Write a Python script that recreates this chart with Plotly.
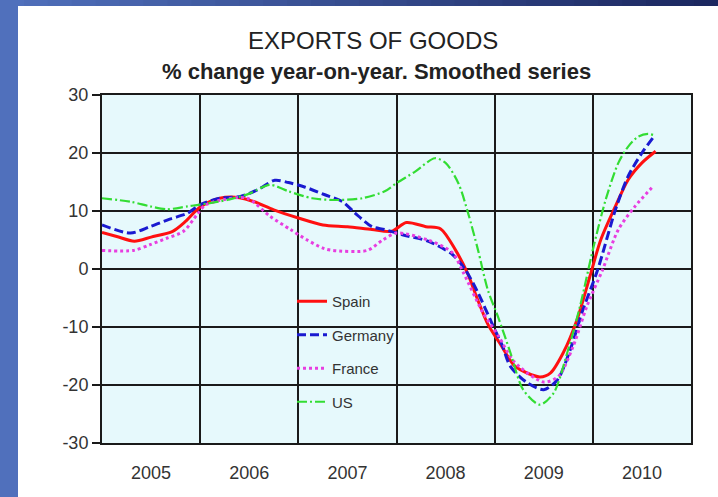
import plotly.graph_objects as go

# ---------------- data ----------------
year_labels = ["2005", "2006", "2007", "2008", "2009", "2010"]
y_ticks = [30, 20, 10, 0, -10, -20, -30]
y_tick_labels = ["30", "20", "10", "0", "-10", "-20", "-30"]

spain_x = [2005.0, 2005.15, 2005.33, 2005.5, 2005.72, 2005.85, 2006.0, 2006.2, 2006.4, 2006.55,
           2006.75, 2007.0, 2007.25, 2007.5, 2007.75, 2007.95, 2008.1, 2008.3, 2008.45, 2008.6,
           2008.72, 2008.82, 2008.93, 2009.06, 2009.21, 2009.46, 2009.57, 2009.70, 2009.84, 2009.97,
           2010.08, 2010.23, 2010.36, 2010.5, 2010.64]
spain_y = [6.3, 5.6, 4.8, 5.5, 6.5, 8.2, 10.7, 12.2, 12.3, 11.6,
           10.2, 8.8, 7.6, 7.3, 6.8, 6.5, 8.0, 7.3, 6.9, 3.3,
           -0.6, -5.0, -9.5, -13.0, -16.8, -18.6, -17.9, -14.4, -8.7, -1.3,
           5.0, 10.8, 15.4, 18.3, 20.3]

germany_x = [2005.0, 2005.29, 2005.49, 2005.69, 2005.87, 2006.0, 2006.2, 2006.41, 2006.59, 2006.76,
             2006.9, 2007.07, 2007.27, 2007.45, 2007.58, 2007.75, 2007.88, 2008.06, 2008.32, 2008.57,
             2008.7, 2008.83, 2008.97, 2009.08, 2009.16, 2009.33, 2009.5, 2009.64, 2009.77, 2009.9,
             2010.05, 2010.23, 2010.36, 2010.5, 2010.62]
germany_y = [7.6, 6.2, 7.3, 8.6, 9.6, 11.1, 12.2, 12.5, 13.7, 15.3,
             14.9, 14.1, 12.8, 11.6, 9.6, 7.3, 6.8, 5.9, 4.8, 2.5,
             -0.1, -4.1, -9.3, -13.3, -16.8, -19.6, -20.8, -19.1, -13.9, -7.0,
             -0.1, 10.2, 16.0, 20.0, 22.8]

france_x = [2005.0, 2005.32, 2005.49, 2005.66, 2005.83, 2005.97, 2006.05, 2006.25, 2006.48, 2006.71,
            2006.92, 2007.09, 2007.25, 2007.35, 2007.7, 2007.86, 2008.0, 2008.32, 2008.57, 2008.68,
            2008.88, 2009.04, 2009.2, 2009.5, 2009.65, 2009.8, 2009.94, 2010.1, 2010.26, 2010.43,
            2010.6]
france_y = [3.2, 3.2, 4.2, 5.3, 6.5, 9.4, 11.0, 12.0, 12.2, 9.1,
            6.8, 5.0, 3.6, 3.2, 3.2, 5.0, 6.2, 5.0, 2.8, -0.6,
            -7.5, -11.6, -16.0, -19.5, -18.5, -13.3, -6.4, -0.1, 6.8, 10.8,
            14.0]

us_x = [2005.0, 2005.29, 2005.49, 2005.66, 2005.87, 2006.0, 2006.3, 2006.5, 2006.71, 2006.9,
        2007.14, 2007.4, 2007.65, 2007.88, 2008.0, 2008.19, 2008.39, 2008.5, 2008.63, 2008.73,
        2008.83, 2008.93, 2009.04, 2009.16, 2009.29, 2009.46, 2009.6, 2009.74, 2009.87, 2010.0,
        2010.13, 2010.26, 2010.36, 2010.46, 2010.56, 2010.62]
us_y = [12.2, 11.6, 10.8, 10.3, 10.8, 11.1, 12.0, 13.0, 14.5, 13.4,
        12.2, 11.9, 12.2, 13.4, 14.8, 16.8, 19.1, 18.3, 14.8, 9.6,
        3.3, -3.6, -8.5, -14.4, -20.8, -23.4, -21.4, -14.4, -6.4, 3.3,
        11.9, 18.3, 21.1, 22.8, 23.3, 23.1]

# ---------------- figure ----------------
W, H = 718, 497
ML, MR, MT, MB = 102, 27, 95, 54
PW, PH = W - ML - MR, H - MT - MB

def px_x(p):
    return (p - ML) / PW

def px_y(p):
    return (H - MB - p) / PH

FONT = "Liberation Sans, Arial, sans-serif"

fig = go.Figure()
series = [
    ("Spain", spain_x, spain_y, dict(color="#ff1010", width=3, dash="solid")),
    ("Germany", germany_x, germany_y, dict(color="#1a1ad0", width=3, dash="9px,4px")),
    ("France", france_x, france_y, dict(color="#e83ee0", width=3, dash="dot")),
    ("US", us_x, us_y, dict(color="#33dd33", width=2.2, dash="10px,3px,2px,3px")),
]
for name, xs, ys, ln in series:
    fig.add_trace(go.Scatter(x=xs, y=ys, name=name, mode="lines",
                             line=dict(shape="spline", smoothing=0.8, **ln),
                             legendgroup=name))

tick_pos = [int(y) + 0.5 for y in year_labels]
first_year = int(year_labels[0])
last_year = int(year_labels[-1]) + 1

shapes = []
# slide background: left blue strip
shapes.append(dict(type="rect", xref="paper", yref="paper", layer="below",
                   x0=px_x(0), x1=px_x(18), y0=px_y(H), y1=px_y(0),
                   fillcolor="#5070bc", line=dict(width=0)))
# top strip with a horizontal gradient
n = 30
c0 = (80, 112, 188)
c1 = (28, 40, 96)
for i in range(n):
    t = i / (n - 1)
    c = tuple(int(c0[k] + (c1[k] - c0[k]) * t) for k in range(3))
    shapes.append(dict(type="rect", xref="paper", yref="paper", layer="below",
                       x0=px_x(W * i / n), x1=px_x(W * (i + 1) / n + 1),
                       y0=px_y(6), y1=px_y(0),
                       fillcolor="rgb(%d,%d,%d)" % c, line=dict(width=0)))

fig.update_layout(
    width=W, height=H,
    margin=dict(l=ML, r=MR, t=MT, b=MB, pad=0),
    paper_bgcolor="white",
    plot_bgcolor="#e6f9fc",
    font=dict(family=FONT, color="#333333"),
    showlegend=True,
    legend=dict(x=px_x(292), y=px_y(285), xanchor="left", yanchor="top",
                bgcolor="rgba(0,0,0,0)", font=dict(size=15, color="#333333"),
                traceorder="grouped", tracegroupgap=11),
    shapes=shapes,
    annotations=[
        dict(text="EXPORTS OF GOODS", xref="paper", yref="paper",
             x=px_x(373), y=px_y(40), xanchor="center", yanchor="middle",
             showarrow=False, font=dict(size=24, color="#222222", family=FONT)),
        dict(text="<b>% change year-on-year. Smoothed series</b>", xref="paper", yref="paper",
             x=px_x(376), y=px_y(71), xanchor="center", yanchor="middle",
             showarrow=False, font=dict(size=22, color="#222222", family=FONT)),
    ],
)

fig.update_xaxes(
    range=[first_year, last_year],
    tickvals=tick_pos, ticktext=year_labels,
    ticks="", showgrid=False, zeroline=False,
    tickfont=dict(size=18, color="#333333"),
    ticklabelstandoff=12,
    showline=True, linecolor="#1a1a1a", linewidth=2, mirror=True,
    minor=dict(tick0=first_year, dtick=1, showgrid=True, gridcolor="#1a1a1a",
               gridwidth=2, ticks=""),
)
fig.update_yaxes(
    range=[-30, 30], tickvals=y_ticks, ticktext=y_tick_labels,
    ticks="outside", ticklen=8, tickwidth=2, tickcolor="#1a1a1a",
    showgrid=True, gridcolor="#1a1a1a", gridwidth=2, zeroline=False,
    tickfont=dict(size=18, color="#333333"),
    showline=True, linecolor="#1a1a1a", linewidth=2, mirror=True,
)

fig.write_html("out.html")
